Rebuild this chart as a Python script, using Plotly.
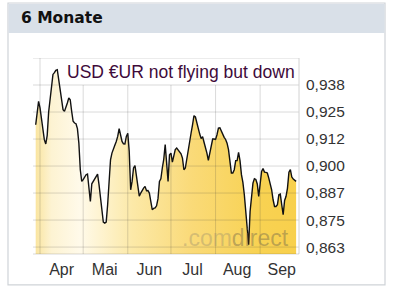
import plotly.graph_objects as go
import pandas as pd

# ---- data ----
start_date = "2010-03-29"
values = [
    0.9191, 0.9253, 0.9299, 0.9269, 0.9222, 0.9161, 0.9122, 0.9102, 0.9142, 0.9250,
    0.9318, 0.9377, 0.9424, 0.9432, 0.9443, 0.9446, 0.9400, 0.9349, 0.9299, 0.9261,
    0.9253, 0.9269, 0.9292, 0.9315, 0.9307, 0.9253, 0.9207, 0.9199, 0.9196, 0.9173,
    0.9106, 0.8983, 0.8929, 0.8937, 0.8949, 0.8960, 0.8963, 0.8910, 0.8836, 0.8918,
    0.8931, 0.8937, 0.8952, 0.8963, 0.8914, 0.8852, 0.8790, 0.8741, 0.8736, 0.8741,
    0.8821, 0.8960, 0.9029, 0.9060, 0.9083, 0.9096, 0.9114, 0.9137, 0.9173, 0.9133,
    0.9114, 0.9103, 0.9102, 0.9137, 0.9151, 0.9068, 0.8890, 0.8929, 0.8991, 0.9002,
    0.8957, 0.8890, 0.8861, 0.8875, 0.8889, 0.8898, 0.8906, 0.8886, 0.8887, 0.8875,
    0.8836, 0.8798, 0.8804, 0.8806, 0.8816, 0.8849, 0.8929, 0.8941, 0.8991, 0.9031,
    0.9099, 0.9014, 0.8929, 0.9052, 0.9060, 0.9018, 0.9055, 0.9076, 0.9083, 0.9076,
    0.9068, 0.9057, 0.9037, 0.8983, 0.8991, 0.9037, 0.9071, 0.9106, 0.9153, 0.9191,
    0.9233, 0.9227, 0.9196, 0.9168, 0.9148, 0.9127, 0.9136, 0.9110, 0.9090, 0.9060,
    0.9026, 0.9060, 0.9103, 0.9125, 0.9125, 0.9123, 0.9145, 0.9176, 0.9177, 0.9161,
    0.9145, 0.9133, 0.9123, 0.9106, 0.9076, 0.9011, 0.8968, 0.8968, 0.8983, 0.9025,
    0.9025, 0.9063, 0.9025, 0.8960, 0.8924, 0.8867, 0.8782, 0.8698, 0.8636, 0.8790,
    0.8875, 0.8921, 0.8941, 0.8938, 0.8917, 0.8860, 0.8917, 0.8975, 0.8989, 0.8972,
    0.8971, 0.8968, 0.8944, 0.8914, 0.8890, 0.8844, 0.8813, 0.8813, 0.8821, 0.8867,
    0.8870, 0.8821, 0.8775, 0.8841, 0.8860, 0.8898, 0.8972, 0.8983, 0.8949, 0.8940,
    0.8934, 0.8929,
]
dates = pd.date_range(start_date, periods=len(values), freq="D")

month_starts = ["2010-04-01", "2010-05-01", "2010-06-01", "2010-07-01", "2010-08-01", "2010-09-01"]
month_label_pos = ["2010-04-16", "2010-05-16", "2010-06-16", "2010-07-16", "2010-08-16", "2010-09-16"]
month_labels = ["Apr", "Mai", "Jun", "Jul", "Aug", "Sep"]

y_tickvals = [0.8625, 0.875, 0.8875, 0.900, 0.9125, 0.925, 0.9375]
y_ticktext = ["0,863", "0,875", "0,887", "0,900", "0,912", "0,925", "0,938"]
y_top = 0.95
y_range = [0.8593, 0.95]
x_range = ["2010-03-27 03:00", "2010-09-28 00:00"]

panel_title = "6 Monate"
chart_note = "USD €UR not flying but down"

fig = go.Figure()
fig.add_trace(go.Scatter(
    x=dates, y=values, mode="lines",
    line=dict(color="#111111", width=1.4),
    fill="tozeroy",
    fillgradient=dict(
        type="horizontal",
        colorscale=[
            [0.0, "#fae5a0"], [0.06, "#fdf3d2"], [0.17, "#fffaea"],
            [0.37, "#fce9a8"], [0.60, "#fada78"], [0.86, "#f8d252"], [1.0, "#f8d04c"],
        ],
    ),
    hoverinfo="skip", showlegend=False,
))

grid_col = "rgba(60,60,60,0.19)"
shapes = []
# panel frame and title bar (paper coords relative to plot area)
shapes.append(dict(type="rect", xref="paper", yref="paper", x0=-0.094, x1=1.3233, y0=-0.158, y1=1.2806,
                   line=dict(color="#cfd3d8", width=1.2), fillcolor="white", layer="below"))
shapes.append(dict(type="rect", xref="paper", yref="paper", x0=-0.092, x1=1.3215, y0=1.1276, y1=1.277,
                   line=dict(width=0), fillcolor="#d9e0e8", layer="below"))
# vertical grid lines at month starts
for m in month_starts:
    shapes.append(dict(type="line", xref="x", yref="paper", x0=m, x1=m, y0=0, y1=1,
                       line=dict(color=grid_col, width=1), layer="above"))
# white note box
shapes.append(dict(type="rect", xref="paper", yref="y", x0=0.109, x1=1, y0=y_tickvals[-1], y1=y_top,
                   line=dict(width=0), fillcolor="white", layer="above"))
# horizontal grid lines
for v in y_tickvals + [y_top]:
    shapes.append(dict(type="line", xref="paper", yref="y", x0=0, x1=1, y0=v, y1=v,
                       line=dict(color=grid_col, width=1), layer="above"))
# right and bottom frame
shapes.append(dict(type="line", xref="paper", yref="paper", x0=1, x1=1, y0=0, y1=1,
                   line=dict(color="#d2d2d2", width=1), layer="above"))
shapes.append(dict(type="line", xref="paper", yref="paper", x0=0, x1=1, y0=0, y1=0,
                   line=dict(color=grid_col, width=1), layer="above"))

annotations = [
    dict(text=panel_title, xref="paper", yref="paper", x=-0.0526, y=1.204, xanchor="left", yanchor="middle",
         showarrow=False, font=dict(family="DejaVu Sans", size=15.5, color="#111111", weight="bold")),
    dict(text=chart_note, xref="paper", yref="paper", x=0.12, y=0.9286, xanchor="left", yanchor="middle",
         showarrow=False, font=dict(family="Liberation Sans", size=17.5, color="#3e0a3a")),
    dict(text="<span style='color:rgba(150,140,110,0.38)'>.com</span><span style='color:rgba(115,105,75,0.45)'>direct</span>",
         xref="paper", yref="paper", x=0.97, y=0.005, xanchor="right", yanchor="bottom",
         showarrow=False, font=dict(family="Liberation Sans", size=23)),
]

fig.update_layout(
    width=400, height=302,
    margin=dict(l=33, r=101, t=58, b=48),
    paper_bgcolor="white", plot_bgcolor="white",
    shapes=shapes, annotations=annotations,
    xaxis=dict(range=x_range, type="date", tickmode="array", tickvals=month_label_pos, ticktext=month_labels,
               showgrid=False, zeroline=False, ticks="", ticklabelstandoff=4,
               tickfont=dict(family="Liberation Sans", size=16, color="#333333")),
    yaxis=dict(range=y_range, side="right", tickmode="array", tickvals=y_tickvals, ticktext=y_ticktext,
               showgrid=False, zeroline=False, ticks="", ticklabelstandoff=6,
               tickfont=dict(family="Liberation Sans", size=15.5, color="#333333")),
)

fig.write_html("out.html")
